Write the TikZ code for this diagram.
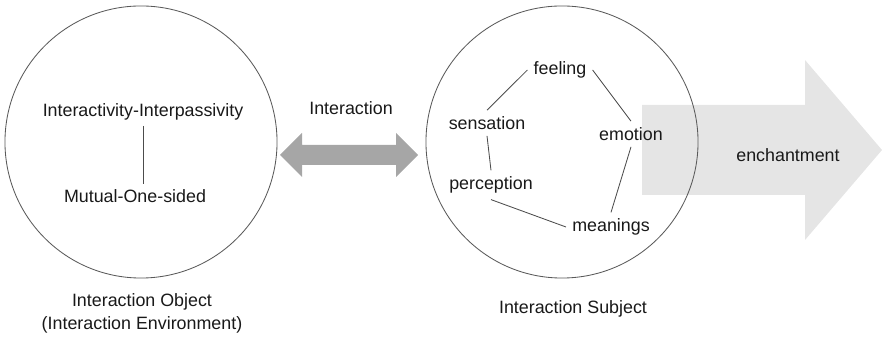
\documentclass[tikz,border=0pt]{standalone}
\usepackage{fontspec}
\setmainfont{Liberation Sans}
\usetikzlibrary{calc,positioning}

\begin{document}
\begin{tikzpicture}[x=0.025cm,y=-0.025cm,
	every node/.style={font=\fontsize{12.7}{16.4}\selectfont,text=black!90},
	ring/.style={circle,draw=black!65,line width=0.6pt,minimum size=6.8cm},
	link/.style={draw=black!70,line width=0.6pt}]
	\useasboundingbox (0,0) rectangle (882,339);

	% wide arrow, drawn first so the circle lies over it
	\fill[black!10] (642,105) -- (805,105) -- (805,60) -- (882,150)
		-- (805,240) -- (805,195) -- (642,195) -- cycle;
	\node (ench) at (788,155) {enchantment};

	% the two circles
	\node[ring] (obj) at (141,142) {};
	\node[ring] (subj) at (562,142) {};

	% double arrow between them
	\fill[black!35] (280,155) -- (302,133) -- (302,145) -- (396,145) -- (396,133)
		-- (418,155) -- (396,177) -- (396,165) -- (302,165) -- (302,177) -- cycle;
	\node (inter) at (351,108) {Interaction};

	% object side
	\begin{scope}[every node/.append style={inner sep=1.3mm}]
		\node (ii) at (143,112) {Interactivity-Interpassivity};
		\node (mo) at (135,196) {Mutual-One-sided};
	\end{scope}
	\path[link] (ii.south) -- (ii.south |- mo.north);
	\node[align=center] (objlbl) at (142,313) {Interaction Object\\(Interaction Environment)};

	% subject side
	\begin{scope}[every node/.append style={inner sep=1.5mm}]
		\node (feel) at (560,70) {feeling};
		\node (sens) at (487,123) {sensation};
		\node (emo) at (631,134) {emotion};
		\node (perc) at (491,185) {perception};
		\node (mean) at (611,227) {meanings};
	\end{scope}

	\begin{scope}[link]
		\path (sens.north) edge (feel.west);
		\path (feel.east) edge (emo.north);
		\path (sens.south) edge (perc.north);
		\path (emo.south) edge (mean.north);
		\path (perc.south) edge (mean.west);
	\end{scope}
	\node (subjlbl) at (573,309) {Interaction Subject};
\end{tikzpicture}
\end{document}
